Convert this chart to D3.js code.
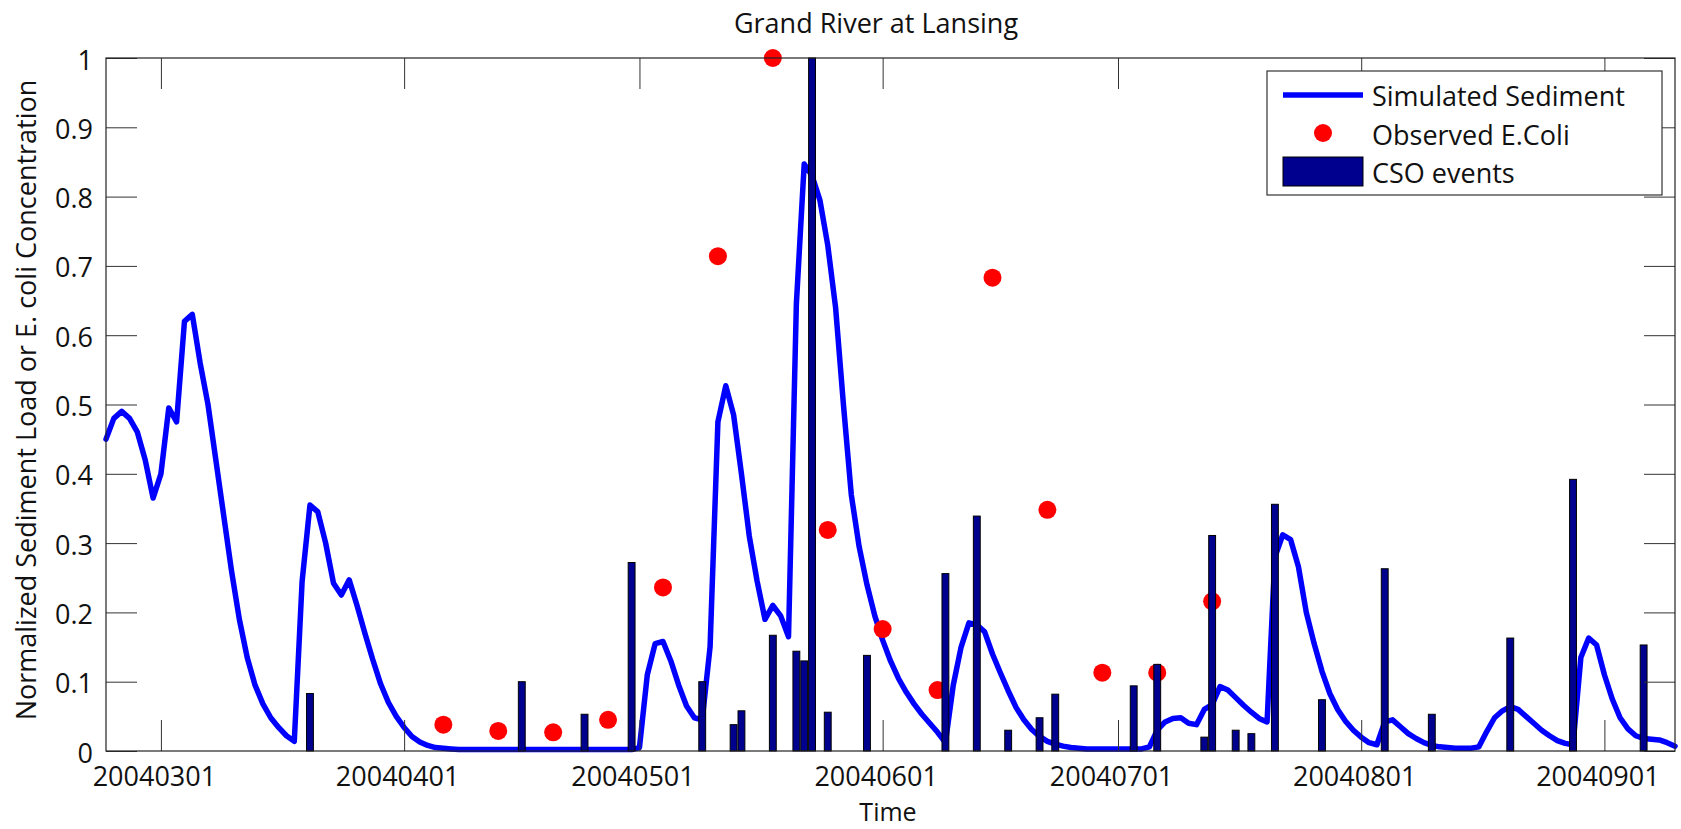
<!DOCTYPE html>
<html lang="en">
<head>
<meta charset="UTF-8">
<title>Grand River at Lansing</title>
<script src="https://d3js.org/d3.v7.min.js"></script>
<style>
  body { margin: 0; background: #ffffff; overflow: hidden; }
  svg { display: block; font-family: 'Open Sans', sans-serif; }
  .axis text { font-size: 27px; fill: #111; font-family: 'Open Sans', sans-serif; }
  .axis line { stroke: #333; stroke-width: 1; }
  .axis path { display: none; }
</style>
</head>
<body>
<div id="chart"></div>
<script>
// simulated sediment (normalized), one value per day from sedimentStart
const sedimentStart = "20040223";
const sediment = [
  0.45, 0.48, 0.49, 0.48, 0.46, 0.42, 0.365,
  0.40, 0.495, 0.475, 0.62, 0.63, 0.56, 0.50, 0.42, 0.34, 0.26,
  0.19, 0.135, 0.095, 0.068, 0.048, 0.034, 0.022, 0.014, 0.245, 0.355,
  0.345, 0.30, 0.242, 0.225, 0.247, 0.21, 0.17, 0.132, 0.097, 0.07,
  0.05, 0.034, 0.021, 0.013, 0.008, 0.005, 0.004, 0.003, 0.002, 0.002,
  0.002, 0.002, 0.002, 0.002, 0.002, 0.002, 0.002, 0.002, 0.002, 0.002,
  0.002, 0.002, 0.002, 0.002, 0.002, 0.002, 0.002, 0.002, 0.002, 0.002,
  0.002, 0.005, 0.11, 0.155, 0.158, 0.13, 0.095, 0.065, 0.048, 0.045,
  0.15, 0.475, 0.527, 0.485, 0.40, 0.31, 0.245, 0.19, 0.21, 0.195,
  0.165, 0.645, 0.847, 0.83, 0.795, 0.73, 0.64, 0.50, 0.37, 0.295,
  0.24, 0.195, 0.16, 0.13, 0.105, 0.085, 0.068, 0.053, 0.04, 0.027,
  0.012, 0.095, 0.15, 0.185, 0.182, 0.172, 0.14, 0.113, 0.087, 0.063,
  0.045, 0.031, 0.021, 0.014, 0.01, 0.007, 0.005, 0.004, 0.003, 0.003,
  0.003, 0.003, 0.003, 0.003, 0.003, 0.003, 0.006, 0.03, 0.042, 0.047,
  0.048, 0.04, 0.038, 0.06, 0.067, 0.093, 0.088, 0.077, 0.066, 0.056,
  0.047, 0.042, 0.28, 0.312, 0.305, 0.266, 0.2, 0.155, 0.115, 0.083,
  0.06, 0.043, 0.03, 0.02, 0.012, 0.009, 0.042, 0.045, 0.035, 0.025,
  0.018, 0.012, 0.008, 0.006, 0.005, 0.004, 0.004, 0.004, 0.006, 0.028,
  0.048, 0.058, 0.064, 0.06, 0.05, 0.04, 0.03, 0.022, 0.015, 0.011,
  0.009, 0.135, 0.163, 0.153, 0.11, 0.075, 0.048, 0.032, 0.022, 0.018,
  0.017, 0.016, 0.012, 0.007
];

// observed E. coli (normalized), weekly samples
const ecoliDates = ["20040406", "20040413", "20040420", "20040427", "20040504",
  "20040511", "20040518", "20040525", "20040601", "20040608", "20040615",
  "20040622", "20040629", "20040706", "20040713"];
const ecoliValues = [0.038, 0.029, 0.027, 0.045, 0.236,
  0.714, 1.0, 0.319, 0.176, 0.088, 0.683,
  0.348, 0.113, 0.113, 0.216];

// CSO events
const csoDates = ["20040320", "20040416", "20040424", "20040430", "20040509",
  "20040513", "20040514", "20040518", "20040521", "20040522", "20040523",
  "20040525", "20040530", "20040609", "20040613", "20040617", "20040621",
  "20040623", "20040703", "20040706", "20040712", "20040713", "20040716",
  "20040718", "20040721", "20040727", "20040804", "20040810", "20040820",
  "20040828", "20040906"];
const csoValues = [0.083, 0.100, 0.053, 0.272, 0.100,
  0.038, 0.058, 0.167, 0.144, 0.130, 1.0,
  0.056, 0.138, 0.256, 0.339, 0.030, 0.048,
  0.082, 0.094, 0.125, 0.020, 0.311, 0.030,
  0.025, 0.356, 0.074, 0.263, 0.053, 0.163,
  0.392, 0.153];

const xDomain = ["20040223", "20040910"];
const xTickLabels = ["20040301", "20040401", "20040501", "20040601", "20040701", "20040801", "20040901"];
const yTickValues = [0, 0.1, 0.2, 0.3, 0.4, 0.5, 0.6, 0.7, 0.8, 0.9, 1];
const yTickLabels = ["0", "0.1", "0.2", "0.3", "0.4", "0.5", "0.6", "0.7", "0.8", "0.9", "1"];
const legendLabels = ["Simulated Sediment", "Observed E.Coli", "CSO events"];

const width = 1681, height = 829;
const plot = { left: 106, top: 58, right: 1675, bottom: 751 };
const tickLen = 31;
const lineW = 5.5;

const parse = d3.utcParse("%Y%m%d");

const x = d3.scaleUtc()
  .domain(xDomain.map(parse))
  .range([plot.left, plot.right]);
const y = d3.scaleLinear()
  .domain([0, 1])
  .range([plot.bottom, plot.top]);

const svg = d3.select("#chart").append("svg")
  .attr("width", width)
  .attr("height", height);

// title and axis labels
svg.append("text")
  .attr("x", 876).attr("y", 33)
  .attr("text-anchor", "middle")
  .style("font-size", "27px").style("fill", "#111")
  .text("Grand River at Lansing");

svg.append("text")
  .attr("x", 888).attr("y", 821)
  .attr("text-anchor", "middle")
  .style("font-size", "25px").style("fill", "#111")
  .text("Time");

svg.append("text")
  .attr("transform", "translate(36,400) rotate(-90)")
  .attr("text-anchor", "middle")
  .style("font-size", "27px").style("fill", "#111")
  .text("Normalized Sediment Load or E. coli Concentration");

// sediment line
const start = parse(sedimentStart);
const line = d3.line()
  .x((d, i) => x(d3.utcDay.offset(start, i)))
  .y(d => y(d));

svg.append("path")
  .datum(sediment)
  .attr("d", line)
  .attr("fill", "none")
  .attr("stroke", "#0000FF")
  .attr("stroke-width", lineW)
  .attr("stroke-linejoin", "round")
  .attr("stroke-linecap", "round");

// observed E. coli
svg.append("g").selectAll("circle")
  .data(ecoliDates)
  .join("circle")
  .attr("cx", d => x(parse(d)))
  .attr("cy", (d, i) => y(ecoliValues[i]))
  .attr("r", 9)
  .attr("fill", "#FF0000");

// CSO bars
const barW = x(d3.utcHour.offset(parse("20040301"), 0.9 * 24)) - x(parse("20040301"));
svg.append("g").selectAll("rect")
  .data(csoDates)
  .join("rect")
  .attr("x", d => x(parse(d)) - barW / 2)
  .attr("y", (d, i) => y(csoValues[i]))
  .attr("width", barW)
  .attr("height", (d, i) => y(0) - y(csoValues[i]))
  .attr("fill", "#00008F")
  .attr("stroke", "#000")
  .attr("stroke-width", 1);

// axes, ticks pointing inward on all sides
const xTicks = xTickLabels.map(parse);

svg.append("g").attr("class", "axis")
  .attr("transform", `translate(0,${plot.bottom})`)
  .call(d3.axisBottom(x).tickValues(xTicks)
    .tickFormat(d3.utcFormat("%Y%m%d"))
    .tickSizeInner(-tickLen).tickSizeOuter(0))
  .selectAll("text")
  .attr("y", 35).attr("dy", null).attr("x", -7);

svg.append("g").attr("class", "axis")
  .attr("transform", `translate(0,${plot.top})`)
  .call(d3.axisTop(x).tickValues(xTicks).tickFormat("")
    .tickSizeInner(-tickLen).tickSizeOuter(0));

svg.append("g").attr("class", "axis")
  .attr("transform", `translate(${plot.left},0)`)
  .call(d3.axisLeft(y).tickValues(yTickValues)
    .tickFormat((d, i) => yTickLabels[i])
    .tickSizeInner(-tickLen).tickSizeOuter(0))
  .selectAll("text")
  .attr("x", -13).attr("dy", null).attr("y", 11);

svg.append("g").attr("class", "axis")
  .attr("transform", `translate(${plot.right},0)`)
  .call(d3.axisRight(y).tickValues(yTickValues).tickFormat("")
    .tickSizeInner(-tickLen).tickSizeOuter(0));

svg.append("rect")
  .attr("x", plot.left).attr("y", plot.top)
  .attr("width", plot.right - plot.left)
  .attr("height", plot.bottom - plot.top)
  .attr("fill", "none")
  .attr("stroke", "#222")
  .attr("stroke-width", 1.2);

// legend
const legend = svg.append("g").attr("transform", "translate(1267,71)");
legend.append("rect")
  .attr("width", 395).attr("height", 124)
  .attr("fill", "#fff").attr("stroke", "#333").attr("stroke-width", 1.2);
legend.append("line")
  .attr("x1", 16).attr("x2", 96).attr("y1", 24).attr("y2", 24)
  .attr("stroke", "#0000FF").attr("stroke-width", lineW);
legend.append("circle")
  .attr("cx", 56).attr("cy", 62).attr("r", 9).attr("fill", "#FF0000");
legend.append("rect")
  .attr("x", 16).attr("y", 86).attr("width", 80).attr("height", 29)
  .attr("fill", "#00008F").attr("stroke", "#000").attr("stroke-width", 1);
legend.selectAll("text.lbl")
  .data(legendLabels)
  .join("text")
  .attr("class", "lbl")
  .attr("x", 105)
  .attr("y", (d, i) => 35 + i * 38.5)
  .style("font-size", "27px").style("fill", "#111")
  .text(d => d);
</script>
</body>
</html>
